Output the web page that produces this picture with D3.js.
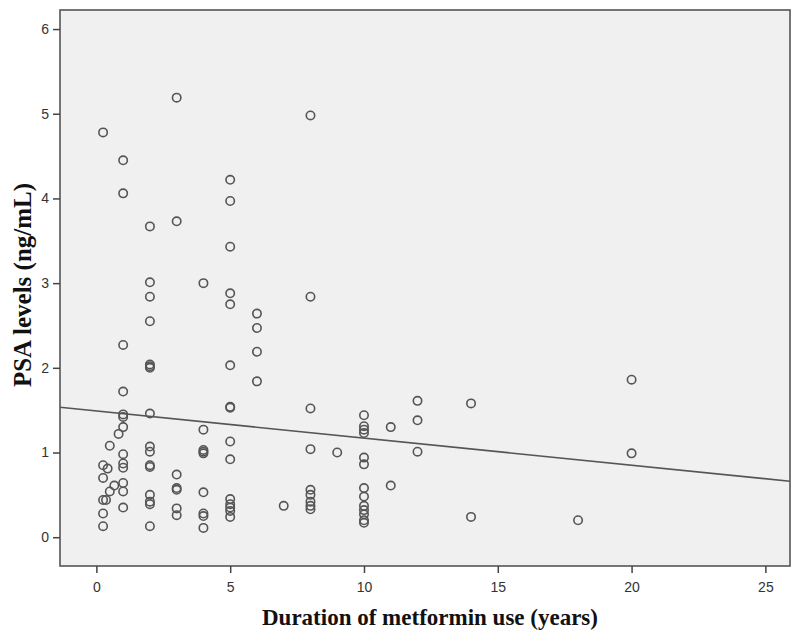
<!DOCTYPE html>
<meta charset="utf-8">
<style>
    body { margin: 0; background: #fff; }
    .tick text { font-family: "Liberation Sans", Arial, sans-serif; font-size: 14px; fill: #333; }
    .tick line { stroke: #444; }
    .title { font-family: "Liberation Serif", "Times New Roman", serif; font-weight: bold; fill: #111; }
</style>
<svg width="800" height="634"></svg>
<script src="https://cdn.jsdelivr.net/npm/d3@7"></script>
<script>

    // duration of metformin use (years) and PSA level (ng/mL)
    var years = [
        0.25, 0.25, 0.25, 0.25, 0.25, 0.25, 0.42, 0.36, 0.5, 0.5, 0.67, 0.83,
        1, 1, 1, 1, 1, 1, 1, 1, 1, 1, 1, 1, 1,
        2, 2, 2, 2, 2, 2, 2, 2, 2, 2, 2, 2, 2, 2, 2, 2,
        3, 3, 3, 3, 3, 3, 3,
        4, 4, 4, 4, 4, 4, 4, 4, 4,
        5, 5, 5, 5, 5, 5, 5, 5, 5, 5, 5, 5, 5, 5, 5,
        6, 6, 6, 6,
        7,
        8, 8, 8, 8, 8, 8, 8, 8, 8,
        9,
        10, 10, 10, 10, 10, 10, 10, 10, 10, 10, 10, 10, 10,
        11, 11,
        12, 12, 12,
        14, 14,
        18,
        20, 20
    ];
    var psa = [
        4.78, 0.85, 0.70, 0.44, 0.28, 0.13, 0.81, 0.44, 1.08, 0.54, 0.61, 1.22,
        4.45, 4.06, 2.27, 1.72, 1.45, 1.42, 1.30, 0.98, 0.87, 0.82, 0.64, 0.54, 0.35,
        3.67, 3.01, 2.84, 2.55, 2.04, 2.02, 2.00, 1.46, 1.07, 1.01, 0.85, 0.83, 0.50, 0.42, 0.39, 0.13,
        5.19, 3.73, 0.74, 0.58, 0.56, 0.34, 0.26,
        3.00, 1.27, 1.03, 1.01, 0.99, 0.53, 0.28, 0.25, 0.11,
        4.22, 3.97, 3.43, 2.88, 2.75, 2.03, 1.54, 1.53, 1.13, 0.92, 0.45, 0.39, 0.35, 0.31, 0.24,
        2.64, 2.47, 2.19, 1.84,
        0.37,
        4.98, 2.84, 1.52, 1.04, 0.56, 0.50, 0.42, 0.37, 0.33,
        1.00,
        1.44, 1.31, 1.27, 1.23, 0.94, 0.86, 0.58, 0.48, 0.37, 0.32, 0.27, 0.20, 0.17,
        1.30, 0.61,
        1.61, 1.38, 1.01,
        1.58, 0.24,
        0.20,
        1.86, 0.99
    ];

    var xTicks = [0, 5, 10, 15, 20, 25];
    var yTicks = [0, 1, 2, 3, 4, 5, 6];

    // fit line: intercept and slope
    var fitIntercept = 1.49,
        fitSlope = -0.032;

    var svg = d3.select("svg");

    var frame = { left: 60, right: 790, top: 10, bottom: 566 };

    var x = d3.scaleLinear()
        .domain([-1.36, 25.92])
        .range([frame.left, frame.right]);

    var y = d3.scaleLinear()
        .domain([-0.34, 6.225])
        .range([frame.bottom, frame.top]);

    // plot background + frame
    svg.append("rect")
        .attr("x", frame.left)
        .attr("y", frame.top)
        .attr("width", frame.right - frame.left)
        .attr("height", frame.bottom - frame.top)
        .attr("fill", "#f0f0f0")
        .attr("stroke", "#555")
        .attr("stroke-width", 1.6);

    // axes
    var gx = svg.append("g")
        .attr("transform", "translate(0," + frame.bottom + ")")
        .call(d3.axisBottom(x).tickValues(xTicks).tickFormat(d3.format("d")).tickSize(7).tickPadding(9));
    gx.select(".domain").remove();

    var gy = svg.append("g")
        .attr("transform", "translate(" + frame.left + ",0)")
        .call(d3.axisLeft(y).tickValues(yTicks).tickFormat(d3.format("d")).tickSize(7).tickPadding(4));
    gy.select(".domain").remove();

    svg.selectAll(".tick line").attr("stroke-width", 1.5);

    // regression line
    var xd = x.domain();
    svg.append("line")
        .attr("x1", x(xd[0]))
        .attr("y1", y(fitIntercept + fitSlope * xd[0]))
        .attr("x2", x(xd[1]))
        .attr("y2", y(fitIntercept + fitSlope * xd[1]))
        .attr("stroke", "#555")
        .attr("stroke-width", 1.6);

    // points
    svg.append("g")
        .selectAll("circle")
        .data(years.map(function (d, i) { return [d, psa[i]]; }))
        .enter().append("circle")
        .attr("cx", function (d) { return x(d[0]); })
        .attr("cy", function (d) { return y(d[1]); })
        .attr("r", 4.2)
        .attr("fill", "none")
        .attr("stroke", "#555")
        .attr("stroke-width", 1.6);

    // axis titles
    svg.append("text")
        .attr("class", "title")
        .attr("x", 430)
        .attr("y", 625)
        .attr("font-size", 23)
        .attr("text-anchor", "middle")
        .text("Duration of metformin use (years)");

    svg.append("text")
        .attr("class", "title")
        .attr("transform", "translate(31,285) rotate(-90)")
        .attr("font-size", 25)
        .attr("text-anchor", "middle")
        .text("PSA levels (ng/mL)");

</script>
